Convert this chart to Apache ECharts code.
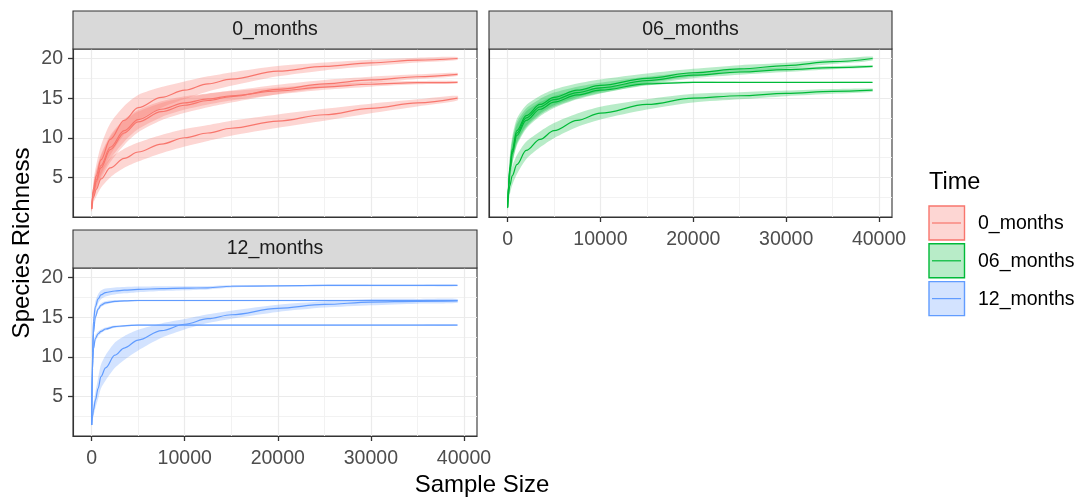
<!DOCTYPE html>
<html>
<head>
<meta charset="utf-8">
<script src="https://cdn.jsdelivr.net/npm/echarts@6/dist/echarts.min.js"></script>
<style>
  html, body { margin: 0; padding: 0; background: #fff; }
  #chart { width: 1089px; height: 499px; }
</style>
</head>
<body>
<div id="chart"></div>
<script>
var groups = ['0_months', '06_months', '12_months'];
var colors = ['#F8766D', '#00BA38', '#619CFF'];
var bandColors = ['rgba(248,118,109,0.3)', 'rgba(0,186,56,0.28)', 'rgba(97,156,255,0.28)'];
var xTicks = [0, 10000, 20000, 30000, 40000];
var yTicks = [5, 10, 15, 20];

// 0_months: sample sizes, richness and half width of the ribbon
var size0 = [1, 200, 500, 1000, 2000, 3500, 5000, 7500, 10000, 12500, 15000, 20000, 25000, 30000, 35000, 39300];
var rich0a = [1, 3.6, 5.2, 7.2, 9.8, 12.2, 13.8, 15.1, 16, 16.8, 17.4, 18.4, 19, 19.45, 19.8, 20];
var se0a = [0.3, 1, 1.4, 1.8, 2, 1.8, 1.6, 1.3, 1.1, 0.95, 0.85, 0.65, 0.5, 0.4, 0.3, 0.2];
var rich0b = [1, 3.1, 4.5, 6.2, 8.5, 10.6, 12, 13.3, 14.1, 14.7, 15.2, 16.1, 16.8, 17.3, 17.7, 18];
var se0b = [0.3, 0.9, 1.2, 1.5, 1.6, 1.5, 1.3, 1.1, 0.95, 0.85, 0.75, 0.6, 0.5, 0.4, 0.3, 0.2];
var rich0c = [1, 3.2, 4.7, 6.5, 8.8, 10.9, 12.3, 13.6, 14.4, 14.9, 15.3, 15.9, 16.4, 16.75, 16.95, 17];
var se0c = [0.3, 0.9, 1.2, 1.4, 1.5, 1.4, 1.2, 1, 0.85, 0.7, 0.6, 0.45, 0.35, 0.3, 0.2, 0.15];
var rich0d = [1, 2.5, 3.5, 4.8, 6.2, 7.4, 8.2, 9.2, 10, 10.6, 11.2, 12.1, 12.9, 13.7, 14.4, 15];
var se0d = [0.3, 0.7, 0.9, 1.1, 1.2, 1.2, 1.2, 1.15, 1.1, 1, 0.95, 0.85, 0.75, 0.6, 0.45, 0.3];

// 06_months
var size6 = [1, 100, 250, 500, 1000, 2000, 3500, 5000, 7500, 10000, 15000, 20000, 25000, 30000, 35000, 39300];
var rich6a = [1.2, 4, 6.3, 8.5, 10.9, 12.8, 14.2, 15.1, 16, 16.6, 17.5, 18.2, 18.7, 19.1, 19.6, 20];
var se6a = [0.3, 1.2, 1.5, 1.6, 1.5, 1.3, 1.1, 1, 0.85, 0.75, 0.6, 0.5, 0.45, 0.35, 0.3, 0.25];
var rich6b = [1.2, 3.8, 6, 8.2, 10.6, 12.5, 13.9, 14.8, 15.7, 16.3, 17.2, 17.9, 18.3, 18.6, 18.85, 19];
var se6b = [0.3, 1.1, 1.4, 1.5, 1.4, 1.2, 1, 0.9, 0.75, 0.65, 0.5, 0.4, 0.35, 0.3, 0.2, 0.15];
var rich6c = [1.2, 3.7, 5.8, 8, 10.3, 12.2, 13.6, 14.5, 15.4, 16, 16.8, 17, 17, 17, 17, 17];
var se6c = [0.3, 1, 1.3, 1.4, 1.3, 1.1, 0.9, 0.75, 0.55, 0.4, 0.2, 0.1, 0.05, 0.05, 0.05, 0.05];
var rich6d = [1.2, 2.8, 4, 5.2, 6.6, 8.4, 9.8, 10.9, 12.2, 13.1, 14.2, 15, 15.3, 15.6, 15.85, 16];
var se6d = [0.3, 0.9, 1.1, 1.2, 1.2, 1.1, 1, 0.95, 0.85, 0.8, 0.65, 0.55, 0.45, 0.35, 0.3, 0.2];

// 12_months
var size12 = [1, 100, 200, 400, 700, 1000, 1500, 2500, 3500, 5000, 7500, 10000, 12500, 15000, 20000, 25000, 30000, 35000, 39300];
var rich12a = [1.4, 10.5, 14.5, 16.3, 17.3, 17.8, 18.1, 18.3, 18.4, 18.5, 18.6, 18.65, 18.7, 18.9, 18.95, 19, 19, 19, 19];
var se12a = [0.2, 0.8, 0.8, 0.7, 0.6, 0.55, 0.5, 0.45, 0.4, 0.35, 0.3, 0.25, 0.2, 0.15, 0.1, 0.1, 0.1, 0.1, 0.1];
var rich12b = [1.4, 9.5, 13, 15, 16, 16.5, 16.8, 17, 17.05, 17.1, 17.1, 17.1, 17.1, 17.1, 17.1, 17.1, 17.1, 17.1, 17.1];
var se12b = [0.2, 0.6, 0.5, 0.4, 0.3, 0.25, 0.2, 0.15, 0.1, 0.1, 0.1, 0.1, 0.1, 0.1, 0.1, 0.1, 0.1, 0.1, 0.1];
var rich12c = [1.4, 8.5, 11, 12.3, 12.9, 13.2, 13.5, 13.8, 13.9, 14, 14, 14, 14, 14, 14, 14, 14, 14, 14];
var se12c = [0.2, 0.6, 0.5, 0.4, 0.3, 0.25, 0.2, 0.15, 0.1, 0.1, 0.1, 0.1, 0.1, 0.1, 0.1, 0.1, 0.1, 0.1, 0.1];
var rich12d = [1.4, 2.5, 3.3, 4.5, 6, 7.5, 8.6, 10.2, 11.1, 12.1, 13.3, 14.1, 14.8, 15.3, 16.1, 16.6, 16.9, 17, 17.05];
var se12d = [0.2, 0.6, 0.8, 1, 1.3, 1.5, 1.6, 1.6, 1.5, 1.3, 0.9, 0.65, 0.55, 0.5, 0.45, 0.4, 0.4, 0.3, 0.25];

var sizes = [size0, size6, size12];
var curves = [
  [[rich0a, se0a], [rich0b, se0b], [rich0c, se0c], [rich0d, se0d]],
  [[rich6a, se6a], [rich6b, se6b], [rich6c, se6c], [rich6d, se6d]],
  [[rich12a, se12a], [rich12b, se12b], [rich12c, se12c], [rich12d, se12d]]
];

// panel layout (facet_wrap, 2 columns)
var panels = [
  {left: 73, top: 49, width: 404, height: 168, showX: false, showY: true},
  {left: 489, top: 49, width: 403, height: 168, showX: true, showY: false},
  {left: 73, top: 268, width: 404, height: 168, showX: true, showY: true}
];
var stripH = 38;
var font = '"Liberation Sans", Arial, sans-serif';

var grids = [], xAxes = [], yAxes = [], series = [], graphics = [];

panels.forEach(function (p, g) {
  grids.push({left: p.left, top: p.top, width: p.width, height: p.height,
    show: true, backgroundColor: '#fff', borderColor: '#333', borderWidth: 1.1, z: 0});
  xAxes.push({
    gridIndex: g, type: 'value', min: -2000, max: 41400, position: 'bottom',
    axisLine: {show: true, onZero: false, lineStyle: {color: '#333', width: 1.1}},
    axisTick: {show: p.showX, inside: false, length: 5, customValues: xTicks, lineStyle: {color: '#333', width: 1.3}},
    axisLabel: {show: p.showX, customValues: xTicks, color: '#4d4d4d', fontSize: 19.5, fontFamily: font, margin: 13,
      formatter: function (v) { return String(v); }},
    splitLine: {show: true, lineStyle: {color: '#ebebeb', width: 1.2}},
    minorTick: {show: false, splitNumber: 2},
    minorSplitLine: {show: true, lineStyle: {color: '#f0f0f0', width: 0.9}}
  });
  yAxes.push({
    gridIndex: g, type: 'value', min: 0, max: 21.2, position: 'left',
    axisLine: {show: true, onZero: false, lineStyle: {color: '#333', width: 1.1}},
    axisTick: {show: p.showY, inside: false, length: 5, customValues: yTicks, lineStyle: {color: '#333', width: 1.3}},
    axisLabel: {show: p.showY, customValues: yTicks, color: '#4d4d4d', fontSize: 19.5, fontFamily: font, margin: 10},
    splitLine: {show: true, lineStyle: {color: '#ebebeb', width: 1.2}},
    minorTick: {show: false, splitNumber: 2},
    minorSplitLine: {show: true, lineStyle: {color: '#f0f0f0', width: 0.9}}
  });

  // strip on top of the panel
  graphics.push({type: 'rect', shape: {x: p.left, y: p.top - stripH, width: p.width, height: stripH},
    style: {fill: '#d9d9d9', stroke: '#333', lineWidth: 1.1}, z: 10});
  graphics.push({type: 'text', x: p.left + p.width / 2, y: p.top - stripH / 2,
    style: {text: groups[g], align: 'center', verticalAlign: 'middle', fill: '#1a1a1a', font: '19.5px ' + font}, z: 11});

  var xs = sizes[g];
  curves[g].forEach(function (c) {
    var ys = c[0], se = c[1];
    series.push({
      type: 'custom', name: groups[g], xAxisIndex: g, yAxisIndex: g, z: 1, silent: true,
      data: [[xs[0], ys[0]]],
      renderItem: function (params, api) {
        var upper = [], lower = [];
        for (var i = 0; i < xs.length; i++) {
          upper.push(api.coord([xs[i], ys[i] + se[i]]));
          lower.unshift(api.coord([xs[i], Math.max(ys[i] - se[i], 0.05)]));
        }
        return {type: 'polygon', shape: {points: upper.concat(lower), smooth: 0.25},
          style: {fill: bandColors[g]}};
      }
    });
    series.push({
      type: 'line', name: groups[g], xAxisIndex: g, yAxisIndex: g, z: 3,
      showSymbol: false, symbol: 'none', smooth: 0.35, smoothMonotone: 'x',
      lineStyle: {color: colors[g], width: 1.2},
      data: xs.map(function (x, i) { return [x, ys[i]]; })
    });
  });
});

// axis titles
graphics.push({type: 'text', x: 482, y: 485,
  style: {text: 'Sample Size', align: 'center', verticalAlign: 'middle', fill: '#000', font: '24px ' + font}});
graphics.push({type: 'text', x: 22, y: 243, rotation: Math.PI / 2,
  style: {text: 'Species Richness', align: 'center', verticalAlign: 'middle', fill: '#000', font: '24px ' + font}});

// legend
graphics.push({type: 'text', x: 929, y: 183,
  style: {text: 'Time', align: 'left', verticalAlign: 'middle', fill: '#000', font: '23.5px ' + font}});
groups.forEach(function (name, i) {
  var top = 206 + i * 37.8;
  graphics.push({type: 'rect', shape: {x: 929, y: top, width: 35.5, height: 34},
    style: {fill: bandColors[i], stroke: colors[i], lineWidth: 1.4}});
  graphics.push({type: 'line', shape: {x1: 932, y1: top + 17, x2: 961, y2: top + 17},
    style: {stroke: colors[i], lineWidth: 1.2}});
  graphics.push({type: 'text', x: 978, y: top + 18,
    style: {text: name, align: 'left', verticalAlign: 'middle', fill: '#000', font: '19.5px ' + font}});
});

var chart = echarts.init(document.getElementById('chart'), null, {renderer: 'canvas'});
chart.setOption({
  animation: false,
  backgroundColor: '#fff',
  grid: grids,
  xAxis: xAxes,
  yAxis: yAxes,
  series: series,
  graphic: graphics
});
</script>
</body>
</html>
